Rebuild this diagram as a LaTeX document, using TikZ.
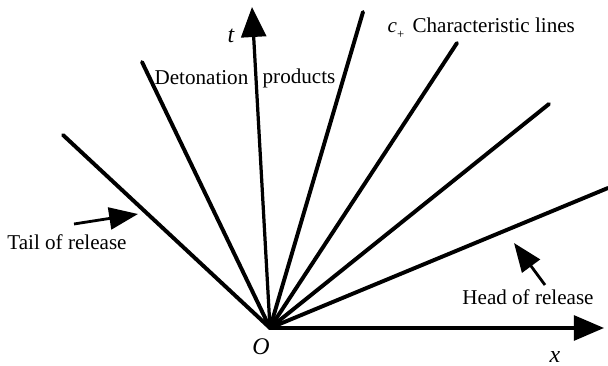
\documentclass[tikz,border=0pt]{standalone}
\usepackage{fontspec}
\setmainfont{Liberation Serif}
\usetikzlibrary{arrows.meta}
\begin{document}
\begin{tikzpicture}[x=0.025cm,y=-0.025cm]
  \tikzstyle{txt} = [font=\fontsize{15}{18}\selectfont,inner sep=1pt]
  \tikzstyle{var} = [font=\fontsize{17}{20}\selectfont\itshape,inner sep=1pt]
  \tikzstyle{axis} = [line width=2.3pt,-{Triangle[length=0.75cm,width=0.62cm]}]
  \tikzstyle{charline} = [line width=2.8pt,line cap=round]
  \tikzstyle{pointer} = [line width=2pt,-{Triangle[length=0.72cm,width=0.55cm]}]
  \useasboundingbox (0,0) rectangle (608,366);
  % Origin and ends of the fan.
  \coordinate (O) at (270,328);
  \coordinate (tail) at (63,135);
  \coordinate (c1) at (142,62);
  \coordinate (c2) at (363,12);
  \coordinate (c3) at (457,43);
  \coordinate (c4) at (549,104);
  \coordinate (head) at (608,188);
  \coordinate (tend) at (252,7);
  \coordinate (xend) at (604,328);
  % Characteristic lines.
  \foreach \e in {tail,c1,c2,c3,c4,head}
    \draw[charline] (O) -- (\e);
  % Axes.
  \draw[axis] (O) -- (tend);
  \draw[axis] (O) -- (xend);
  % Labels.
  \node[var] (tlab) at (231,36) {t};
  \node[var] (olab) at (261,347) {O};
  \node[var] (xlab) at (555,357) {x};
  \node[txt,anchor=east] (prodA) at (250,78) {Detonation};
  \node[txt,anchor=west] (prodB) at (261,78) {products};
  \node[txt,anchor=west] (clines) at (386,28)
    {\textit{c}\raisebox{-4pt}{\fontsize{9}{9}\selectfont +}\hspace{6pt}Characteristic lines};
  \node[txt] (taillab) at (67,242) {Tail of release};
  \node[txt] (headlab) at (528,297) {Head of release};
  % Pointers.
  \coordinate (tailfrom) at (74,224);
  \coordinate (tailtip) at (138,214);
  \coordinate (headfrom) at (545,285);
  \coordinate (headtip) at (514,243);
  \draw[pointer] (tailfrom) -- (tailtip);
  \draw[pointer] (headfrom) -- (headtip);
\end{tikzpicture}
\end{document}
